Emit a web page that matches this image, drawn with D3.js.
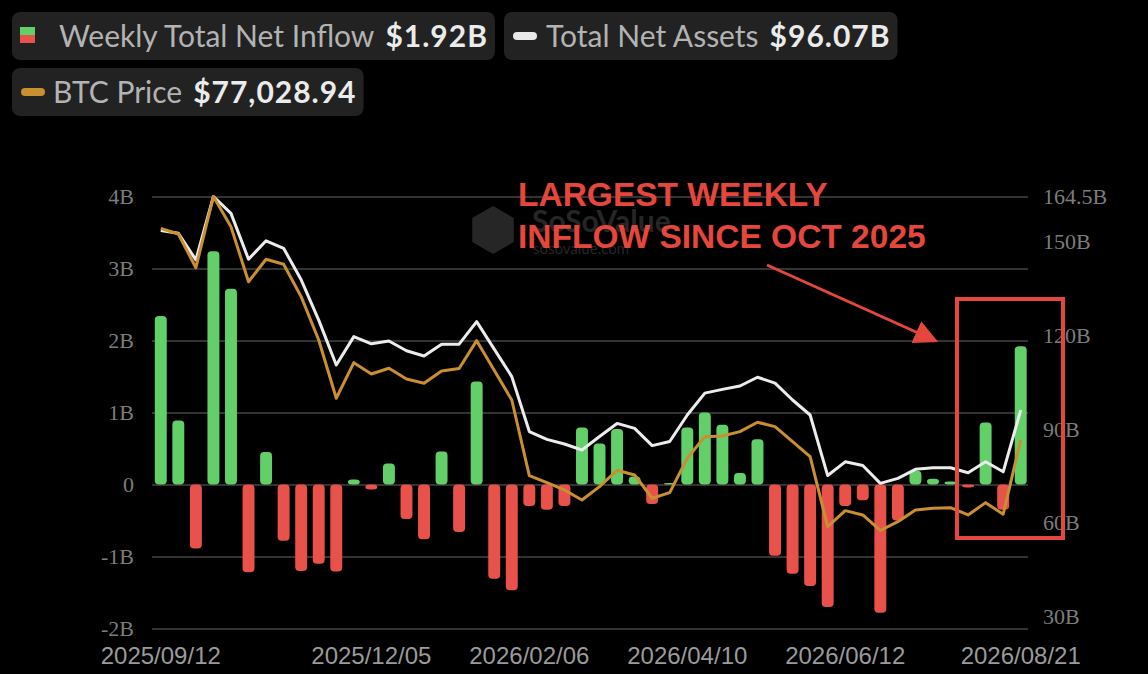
<!DOCTYPE html>
<html>
<head>
<meta charset="utf-8">
<script src="https://cdn.jsdelivr.net/npm/d3@7"></script>
<style>
  html, body { margin: 0; padding: 0; background: #000; }
  svg { display: block; }
</style>
</head>
<body>
<div id="chart"></div>
<script>
// weekly data
const weeks = [
  "2025/09/12", "2025/09/19", "2025/09/26", "2025/10/03", "2025/10/10", "2025/10/17",
  "2025/10/24", "2025/10/31", "2025/11/07", "2025/11/14", "2025/11/21", "2025/11/28",
  "2025/12/05", "2025/12/12", "2025/12/19", "2025/12/26", "2026/01/02", "2026/01/09",
  "2026/01/16", "2026/01/23", "2026/01/30", "2026/02/06", "2026/02/13", "2026/02/20",
  "2026/02/27", "2026/03/06", "2026/03/13", "2026/03/20", "2026/03/27", "2026/04/03",
  "2026/04/10", "2026/04/17", "2026/04/24", "2026/05/01", "2026/05/08", "2026/05/15",
  "2026/05/22", "2026/05/29", "2026/06/05", "2026/06/12", "2026/06/19", "2026/06/26",
  "2026/07/03", "2026/07/10", "2026/07/17", "2026/07/24", "2026/07/31", "2026/08/07",
  "2026/08/14", "2026/08/21"
];

// weekly total net inflow, billions USD
const netInflow = [
  2.34, 0.89, -0.89, 3.24, 2.72, -1.22, 0.45, -0.78, -1.20, -1.10,
  -1.21, 0.07, -0.07, 0.29, -0.48, -0.76, 0.46, -0.66, 1.43, -1.31,
  -1.47, -0.30, -0.35, -0.30, 0.79, 0.57, 0.77, 0.11, -0.27, 0.02,
  0.79, 1.00, 0.83, 0.16, 0.63, -0.99, -1.24, -1.41, -1.70, -0.30,
  -0.22, -1.78, -0.50, 0.19, 0.08, 0.04, -0.04, 0.86, -0.35, 1.92
];

// total net assets, billions USD
const netAssets = [
  153.6, 152.7, 144.2, 164.5, 159.1, 144.4, 150.3, 147.9, 137.8, 124.9,
  110.5, 119.6, 117.3, 118.2, 115.1, 113.4, 117.2, 117.2, 124.4, 115.6,
  106.8, 89.2, 86.7, 85.2, 83.3, 87.6, 91.8, 90.2, 84.7, 86.0,
  94.5, 101.5, 102.7, 103.8, 106.6, 104.7, 99.3, 94.5, 75.1, 79.5,
  78.3, 72.6, 74.2, 77.1, 77.6, 77.6, 76.0, 79.5, 76.3, 96.07
];

// BTC price, USD
const btcPrice = [
  119600, 118460, 111680, 126000, 119930, 108860, 113370, 112360, 105850, 97140,
  85410, 92570, 90300, 91450, 89290, 88430, 90900, 91400, 97000, 91040,
  85070, 69850, 68440, 66970, 64960, 67630, 70930, 69990, 65300, 66430,
  73350, 77690, 77830, 78700, 80590, 79700, 76680, 73670, 59590, 62810,
  61940, 58820, 60590, 62950, 63290, 63410, 61940, 64420, 62080, 77028.94
];

const xTickLabels = ["2025/09/12", "2025/12/05", "2026/02/06", "2026/04/10", "2026/06/12", "2026/08/21"];
const leftTicks = [-2, -1, 0, 1, 2, 3, 4];
const rightTicks = [30, 60, 90, 120, 150, 164.5];

const data = weeks.map((w, i) => ({
  week: w,
  inflow: netInflow[i],
  assets: netAssets[i],
  price: btcPrice[i]
}));

const width = 1148, height = 674;
const plotLeft = 152, plotRight = 1028, plotTop = 196.5, plotBottom = 628.5;

const svg = d3.select("#chart")
  .append("svg")
  .attr("width", width)
  .attr("height", height)
  .style("background", "#000");

const x = d3.scaleBand()
  .domain(weeks)
  .range([plotLeft, 1029.5])
  .paddingInner(0.32)
  .paddingOuter(0.16);

const yL = d3.scaleLinear().domain([-2, 4]).range([plotBottom, plotTop]);
const yR = d3.scaleLinear().domain([26.1, d3.max(netAssets)]).range([plotBottom, plotTop]);
const yP = d3.scaleLinear().domain([39100, d3.max(btcPrice)]).range([plotBottom, plotTop]);

// grid
svg.append("g")
  .attr("class", "grid")
  .attr("transform", `translate(${plotLeft},0)`)
  .call(d3.axisRight(yL).tickValues(leftTicks).tickSize(plotRight - plotLeft).tickFormat(""))
  .call(g => g.select(".domain").remove())
  .call(g => g.selectAll("line").attr("stroke", "#444").attr("stroke-width", 1.6));

// left axis
svg.append("g")
  .attr("transform", `translate(${plotLeft},0)`)
  .call(d3.axisLeft(yL).tickValues(leftTicks).tickSize(0).tickPadding(18)
    .tickFormat(d => d === 0 ? "0" : d + "B"))
  .call(g => g.select(".domain").remove())
  .call(g => g.selectAll("text")
    .attr("fill", "#7c7c7c")
    .style("font-family", "'Liberation Serif', 'DejaVu Serif', serif")
    .style("font-size", "22px"));

// right axis (net assets)
svg.append("g")
  .attr("transform", `translate(${plotRight},0)`)
  .call(d3.axisRight(yR).tickValues(rightTicks).tickSize(0).tickPadding(15)
    .tickFormat(d => d + "B"))
  .call(g => g.select(".domain").remove())
  .call(g => g.selectAll("text")
    .attr("fill", "#7c7c7c")
    .style("font-family", "'Liberation Serif', 'DejaVu Serif', serif")
    .style("font-size", "22px"));

// bottom axis
svg.append("g")
  .attr("transform", `translate(0,${plotBottom})`)
  .call(d3.axisBottom(x).tickValues(xTickLabels).tickSize(0).tickPadding(18))
  .call(g => g.select(".domain").remove())
  .call(g => g.selectAll("text")
    .attr("fill", "#9a9a9a")
    .style("font-family", "'Liberation Sans', Arial, sans-serif")
    .style("font-size", "24px"));

// faint SoSoValue watermark
const wm = svg.append("g").attr("fill", "#262626");
wm.append("path")
  .attr("d", d3.line()(d3.range(6).map(k => {
    const a = Math.PI / 6 + k * Math.PI / 3;
    return [493 + 24 * Math.cos(a), 230 + 24 * Math.sin(a)];
  })) + "Z");
wm.append("text")
  .attr("x", 532).attr("y", 232)
  .style("font-family", "Lato, sans-serif")
  .style("font-weight", 700)
  .style("font-size", "30px")
  .text("SoSoValue");
wm.append("text")
  .attr("x", 533).attr("y", 254)
  .style("font-family", "Lato, sans-serif")
  .style("font-size", "15px")
  .text("sosovalue.com");

// inflow bars
svg.append("g")
  .selectAll("rect")
  .data(data)
  .join("rect")
  .attr("x", d => x(d.week))
  .attr("width", x.bandwidth())
  .attr("y", d => d.inflow >= 0 ? yL(d.inflow) : yL(0))
  .attr("height", d => Math.abs(yL(d.inflow) - yL(0)))
  .attr("rx", 4)
  .attr("fill", d => d.inflow >= 0 ? "#63cf68" : "#e9524a");

const cx = d => x(d.week) + x.bandwidth() / 2;

// total net assets line
svg.append("path")
  .datum(data)
  .attr("fill", "none")
  .attr("stroke", "#ececec")
  .attr("stroke-width", 3)
  .attr("stroke-linejoin", "round")
  .attr("d", d3.line().x(cx).y(d => yR(d.assets)));

// btc price line
svg.append("path")
  .datum(data)
  .attr("fill", "none")
  .attr("stroke", "#c98f30")
  .attr("stroke-width", 3)
  .attr("stroke-linejoin", "round")
  .attr("d", d3.line().x(cx).y(d => yP(d.price)));

// legend chips
const legendItems = [
  { x: 12, y: 12, label: "Weekly Total Net Inflow", value: "$1.92B", icon: "split", gap: 24 },
  { x: 504, y: 12, label: "Total Net Assets", value: "$96.07B", icon: "#e8e8e8", gap: 9 },
  { x: 12, y: 68, label: "BTC Price", value: "$77,028.94", icon: "#c98f30", gap: 8 }
];

legendItems.forEach(item => {
  const g = svg.append("g").attr("transform", `translate(${item.x},${item.y})`);
  const box = g.append("rect")
    .attr("height", 48)
    .attr("rx", 8)
    .attr("fill", "#222");

  if (item.icon === "split") {
    g.append("rect").attr("x", 8).attr("y", 15).attr("width", 15).attr("height", 8).attr("fill", "#63cf68");
    g.append("rect").attr("x", 8).attr("y", 23).attr("width", 15).attr("height", 8).attr("fill", "#e9524a");
  } else {
    g.append("rect").attr("x", 9).attr("y", 20).attr("width", 24).attr("height", 8)
      .attr("rx", 4).attr("fill", item.icon);
  }

  const iconEnd = item.icon === "split" ? 23 : 33;
  const label = g.append("text")
    .attr("x", iconEnd + item.gap)
    .attr("y", 35)
    .attr("fill", "#b3b3b3")
    .style("font-family", "Lato, sans-serif")
    .style("font-size", "30px")
    .text(item.label);
  const lw = label.node().getComputedTextLength();

  const value = g.append("text")
    .attr("x", iconEnd + item.gap + lw + 11)
    .attr("y", 35)
    .attr("fill", "#ebebeb")
    .style("font-family", "Lato, sans-serif")
    .style("font-weight", 700)
    .style("font-size", "30px")
    .style("letter-spacing", "1px")
    .text(item.value);
  const vw = value.node().getComputedTextLength();

  box.attr("width", iconEnd + item.gap + lw + 11 + vw + 7);
});

// annotation
const red = "#e5473c";

svg.append("defs").append("marker")
  .attr("id", "head")
  .attr("viewBox", "0 0 10 10")
  .attr("refX", 9)
  .attr("refY", 5)
  .attr("markerWidth", 8)
  .attr("markerHeight", 8)
  .attr("markerUnits", "strokeWidth")
  .attr("orient", "auto")
  .append("path")
  .attr("d", "M0,0 L10,5 L0,10 Z")
  .attr("fill", red);

svg.append("line")
  .attr("x1", 767).attr("y1", 265)
  .attr("x2", 936).attr("y2", 341)
  .attr("stroke", red)
  .attr("stroke-width", 3)
  .attr("marker-end", "url(#head)");

const note = svg.append("text")
  .attr("fill", red)
  .style("font-family", "'Liberation Sans', Arial, sans-serif")
  .style("font-weight", 700)
  .style("font-size", "33.5px");
note.append("tspan").attr("x", 518).attr("y", 206).text("LARGEST WEEKLY");
note.append("tspan").attr("x", 518).attr("y", 248).text("INFLOW SINCE OCT 2025");

svg.append("rect")
  .attr("x", 957).attr("y", 299)
  .attr("width", 106).attr("height", 239)
  .attr("fill", "none")
  .attr("stroke", red)
  .attr("stroke-width", 4);
</script>
</body>
</html>
